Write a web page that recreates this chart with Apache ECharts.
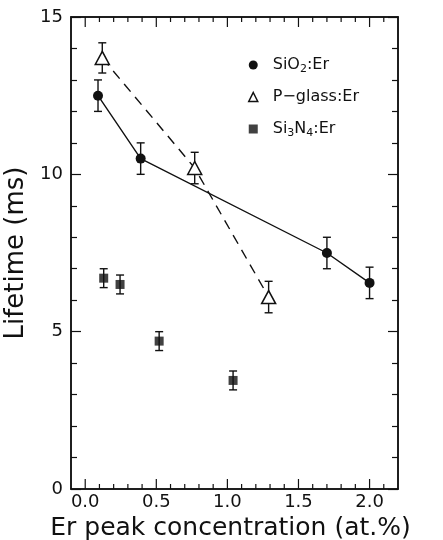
<!DOCTYPE html>
<html>
<head>
<meta charset="utf-8">
<script src="https://cdn.jsdelivr.net/npm/echarts@6/dist/echarts.min.js"></script>
<style>
  html, body { margin: 0; padding: 0; background: #fff; }
  #chart { width: 443px; height: 540px; }
</style>
</head>
<body>
<div id="chart"></div>
<script>
// Erbium photoluminescence lifetime vs. peak Er concentration
const sio2X = [0.09, 0.39, 1.70, 2.00];
const sio2Y = [12.5, 10.5, 7.5, 6.55];
const sio2Err = [0.5, 0.5, 0.5, 0.5];

const pglassX = [0.12, 0.77, 1.29];
const pglassY = [13.7, 10.2, 6.1];
const pglassErr = [0.48, 0.5, 0.5];

const sinX = [0.13, 0.245, 0.52, 1.04];
const sinY = [6.7, 6.5, 4.7, 3.45];
const sinErr = [0.3, 0.3, 0.3, 0.3];

// x axis range and tick positions (long major ticks, short minor ticks)
const xMin = -0.1, xMax = 2.2;
const xMajorTicks = [0, 0.5, 1.0, 1.5, 2.0];
const xMinorTicks = [0.1, 0.2, 0.3, 0.4, 0.6, 0.7, 0.8, 0.9, 1.1, 1.2, 1.3, 1.4, 1.6, 1.7, 1.8, 1.9, 2.1];
// y axis range and major step
const yMin = 0, yMax = 15, yMajor = 5;

const FONT = '"DejaVu Sans", "Liberation Sans", sans-serif';
const INK = '#111';
const MAJOR_LEN = 10, MINOR_LEN = 5;

const pairs = (xs, ys) => xs.map((x, i) => [x, ys[i]]);
const triples = (xs, ys, es) => xs.map((x, i) => [x, ys[i], es[i]]);
const isMajor = v => xMajorTicks.some(t => Math.abs(t - v) < 1e-6);

function errorBars(params, api) {
  const x = api.value(0), y = api.value(1), e = api.value(2);
  const top = api.coord([x, y + e]);
  const bot = api.coord([x, y - e]);
  const half = 4;
  const style = { stroke: INK, lineWidth: 1.4 };
  return {
    type: 'group',
    children: [
      { type: 'line', shape: { x1: top[0], y1: top[1], x2: bot[0], y2: bot[1] }, style },
      { type: 'line', shape: { x1: top[0] - half, y1: top[1], x2: top[0] + half, y2: top[1] }, style },
      { type: 'line', shape: { x1: bot[0] - half, y1: bot[1], x2: bot[0] + half, y2: bot[1] }, style }
    ]
  };
}

// Inward x ticks on the bottom and top frame edges, placed through the x scale
function xTicks(params, api) {
  const x = api.value(0), len = api.value(2);
  const b = api.coord([x, yMin]);
  const t = api.coord([x, yMax]);
  const style = { stroke: INK, lineWidth: 1.2 };
  return {
    type: 'group',
    children: [
      { type: 'line', shape: { x1: b[0], y1: b[1], x2: b[0], y2: b[1] - len }, style },
      { type: 'line', shape: { x1: t[0], y1: t[1], x2: t[0], y2: t[1] + len }, style }
    ]
  };
}
const tickData = xMajorTicks.map(v => [v, yMin, MAJOR_LEN])
  .concat(xMinorTicks.map(v => [v, yMin, MINOR_LEN]));

function yAxisDef(position, labels) {
  return {
    type: 'value', position, min: yMin, max: yMax, interval: yMajor,
    axisLine: { show: true, onZero: false, lineStyle: { color: INK, width: 1.5 } },
    axisTick: { show: true, inside: true, length: 10, lineStyle: { color: INK, width: 1.2 } },
    minorTick: { show: true, splitNumber: 5, length: 6, lineStyle: { color: INK, width: 1.2 } },
    axisLabel: labels
      ? { show: true, fontFamily: FONT, fontSize: 18, color: INK, margin: 8 }
      : { show: false },
    splitLine: { show: false },
    minorSplitLine: { show: false }
  };
}

const bottomAxis = {
  type: 'value', position: 'bottom', min: xMin, max: xMax,
  name: 'Er peak concentration (at.%)', nameLocation: 'middle', nameGap: 27,
  nameTextStyle: { fontFamily: FONT, fontSize: 25, color: INK, padding: [0, 8, 0, 0] },
  axisLine: { show: true, onZero: false, lineStyle: { color: INK, width: 1.5 } },
  axisTick: { show: false },
  axisLabel: {
    show: true, showMinLabel: false, showMaxLabel: false,
    formatter: v => (isMajor(v) ? v.toFixed(1) : ''),
    fontFamily: FONT, fontSize: 18, color: INK, margin: 4
  },
  splitLine: { show: false }
};

const topAxis = {
  type: 'value', position: 'top', min: xMin, max: xMax,
  axisLine: { show: true, onZero: false, lineStyle: { color: INK, width: 1.5 } },
  axisTick: { show: false },
  axisLabel: { show: false },
  splitLine: { show: false }
};

const leftAxis = yAxisDef('left', true);
leftAxis.name = 'Lifetime (ms)';
leftAxis.nameLocation = 'middle';
leftAxis.nameGap = 33;
leftAxis.nameTextStyle = { fontFamily: FONT, fontSize: 26, color: INK };

const richLegend = {
  t: { fontFamily: FONT, fontSize: 16, color: INK },
  p: { fontFamily: FONT, fontSize: 16, color: INK, padding: [0, 0, 0, 10] },
  s: { fontFamily: FONT, fontSize: 11, color: INK, padding: [9, 0, 0, 0] }
};
const legendText = {
  'SiO2:Er': '{p|SiO}{s|2}{t|:Er}',
  'P-glass:Er': '{p|P\u2212glass:Er}',
  'Si3N4:Er': '{p|Si}{s|3}{t|N}{s|4}{t|:Er}'
};

const chart = echarts.init(document.getElementById('chart'), null, { renderer: 'canvas' });
chart.setOption({
  animation: false,
  backgroundColor: '#fff',
  grid: {
    left: 71, right: 45, top: 17, bottom: 51,
    outerBoundsMode: 'none', containLabel: false,
    show: true, borderColor: INK, borderWidth: 1.5, backgroundColor: 'transparent'
  },
  xAxis: [bottomAxis, topAxis],
  yAxis: [leftAxis, yAxisDef('right', false)],
  legend: {
    orient: 'vertical', left: 243, top: 50,
    itemWidth: 9, itemHeight: 9, itemGap: 12,
    data: [
      { name: 'SiO2:Er', icon: 'circle' },
      { name: 'P-glass:Er', icon: 'triangle', itemStyle: { borderWidth: 1.5 } },
      { name: 'Si3N4:Er', icon: 'rect' }
    ],
    formatter: name => legendText[name],
    textStyle: { rich: richLegend, lineHeight: 20 }
  },
  series: [
    { type: 'custom', name: 'xTicks', renderItem: xTicks, data: tickData, z: 2, silent: true },
    { type: 'custom', name: 'errSiO2', renderItem: errorBars, data: triples(sio2X, sio2Y, sio2Err), z: 1 },
    { type: 'custom', name: 'errPglass', renderItem: errorBars, data: triples(pglassX, pglassY, pglassErr), z: 1 },
    { type: 'custom', name: 'errSiN', renderItem: errorBars, data: triples(sinX, sinY, sinErr), z: 1 },
    {
      type: 'line', name: 'SiO2:Er', data: pairs(sio2X, sio2Y), z: 3,
      symbol: 'circle', symbolSize: 10,
      lineStyle: { color: INK, width: 1.4 },
      itemStyle: { color: INK, borderColor: INK, borderWidth: 0 }
    },
    {
      type: 'line', name: 'P-glass:Er', data: pairs(pglassX, pglassY), z: 3,
      symbol: 'triangle', symbolSize: [14, 13],
      lineStyle: { color: INK, width: 1.4, type: [10, 7] },
      itemStyle: { color: '#fff', borderColor: INK, borderWidth: 1.5 }
    },
    {
      type: 'scatter', name: 'Si3N4:Er', data: pairs(sinX, sinY), z: 3,
      symbol: 'rect', symbolSize: 9,
      itemStyle: { color: INK }
    }
  ]
});
</script>
</body>
</html>
